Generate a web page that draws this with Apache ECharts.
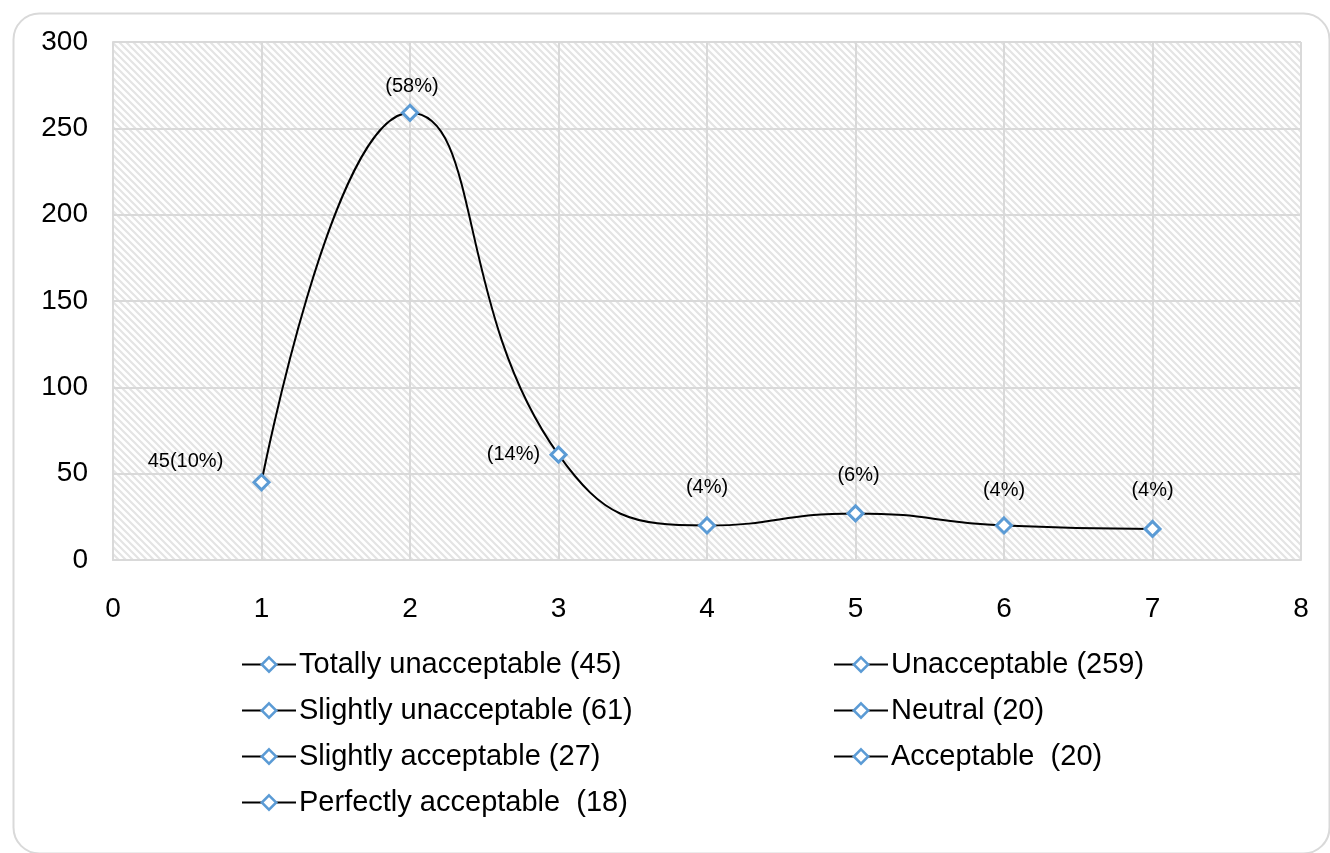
<!DOCTYPE html>
<html>
<head>
<meta charset="utf-8">
<script src="https://cdn.jsdelivr.net/npm/echarts@6/dist/echarts.min.js"></script>
<style>
  html, body { margin: 0; padding: 0; background: #fff; }
  #chart { width: 1330px; height: 853px; }
</style>
</head>
<body>
<div id="chart"></div>
<script>
// Response scale positions and counts
const scalePoints = [1, 2, 3, 4, 5, 6, 7];
const counts = [45, 259, 61, 20, 27, 20, 18];
const pointLabels = ['45(10%)', '(58%)', '(14%)', '(4%)', '(6%)', '(4%)', '(4%)'];
const categoryNames = [
  'Totally unacceptable (45)',
  'Unacceptable (259)',
  'Slightly unacceptable (61)',
  'Neutral (20)',
  'Slightly acceptable (27)',
  'Acceptable  (20)',
  'Perfectly acceptable  (18)'
];
const yTicks = [0, 50, 100, 150, 200, 250, 300];
const xTicks = [0, 1, 2, 3, 4, 5, 6, 7, 8];

// Label offsets from each marker centre
const labelOffsets = [
  [-76, -21],
  [2, -26],
  [-45, 0],
  [0, -38],
  [3, -38],
  [0, -35],
  [0, -38]
];

// Diagonal hatch used as the plot background
function hatchTile() {
  const s = 7;
  const c = document.createElement('canvas');
  c.width = s; c.height = s;
  const g = c.getContext('2d');
  g.fillStyle = '#ffffff';
  g.fillRect(0, 0, s, s);
  g.strokeStyle = '#e4e4e4';
  g.lineWidth = 2.2;
  g.beginPath();
  g.moveTo(-2, -2); g.lineTo(s + 2, s + 2);
  g.moveTo(-2, s - 2); g.lineTo(2, s + 2);
  g.moveTo(s - 2, -2); g.lineTo(s + 2, 2);
  g.stroke();
  return c;
}

const FONT = '"Liberation Sans", Arial, sans-serif';
const BLUE = '#5b9bd5';

const chart = echarts.init(document.getElementById('chart'), null, { renderer: 'canvas' });

// One entry per answer category: a white diamond with a thick blue outline
const pointSeries = scalePoints.map((x, i) => ({
  name: categoryNames[i],
  type: 'line',
  data: [[x, counts[i]]],
  symbol: 'diamond',
  symbolSize: 15,
  z: 5,
  itemStyle: { color: '#ffffff', borderColor: BLUE, borderWidth: 3 },
  lineStyle: { color: '#000', width: 1.5 },
  label: {
    show: true,
    formatter: () => pointLabels[i],
    position: 'inside',
    offset: labelOffsets[i],
    fontFamily: FONT,
    fontSize: 20,
    color: '#000'
  },
  emphasis: { disabled: true }
}));

const curveSeries = {
  name: 'curve',
  type: 'line',
  data: scalePoints.map((x, i) => [x, counts[i]]),
  smooth: 0.5,
  showSymbol: false,
  symbol: 'none',
  z: 2,
  silent: true,
  lineStyle: { color: '#000', width: 2 }
};

const legendCommon = {
  orient: 'vertical',
  itemWidth: 54,
  itemHeight: 18,
  itemGap: 13,
  selectedMode: false,
  itemStyle: { borderWidth: 2.5 },
  textStyle: { fontFamily: FONT, fontSize: 29, color: '#000', lineHeight: 33, padding: [0, 0, 0, -2] }
};

chart.setOption({
  backgroundColor: '#fff',
  animation: false,
  graphic: [{
    type: 'rect',
    left: 11, top: 11,
    shape: { width: 1316, height: 840, r: 26 },
    style: { fill: 'none', stroke: '#d9d9d9', lineWidth: 2 },
    z: -10
  }],
  grid: {
    left: 113, right: 29, top: 42, bottom: 293,
    show: true,
    borderWidth: 0,
    backgroundColor: { image: hatchTile(), repeat: 'repeat' }
  },
  xAxis: {
    type: 'value',
    min: xTicks[0], max: xTicks[xTicks.length - 1], interval: 1,
    axisLine: { show: true, lineStyle: { color: '#d9d9d9', width: 2 } },
    axisTick: { show: false },
    splitLine: { show: true, lineStyle: { color: '#d9d9d9', width: 2 } },
    axisLabel: { fontFamily: FONT, fontSize: 28, color: '#000', margin: 35 }
  },
  yAxis: {
    type: 'value',
    min: yTicks[0], max: yTicks[yTicks.length - 1], interval: 50,
    axisLine: { show: true, lineStyle: { color: '#d9d9d9', width: 2 } },
    axisTick: { show: false },
    splitLine: { show: true, lineStyle: { color: '#d9d9d9', width: 2 } },
    axisLabel: { fontFamily: FONT, fontSize: 28, color: '#000', margin: 25 }
  },
  legend: [
    Object.assign({}, legendCommon, {
      left: 236, top: 643,
      data: [categoryNames[0], categoryNames[2], categoryNames[4], categoryNames[6]]
    }),
    Object.assign({}, legendCommon, {
      left: 828, top: 643,
      data: [categoryNames[1], categoryNames[3], categoryNames[5]]
    })
  ],
  series: [curveSeries].concat(pointSeries)
});
</script>
</body>
</html>
